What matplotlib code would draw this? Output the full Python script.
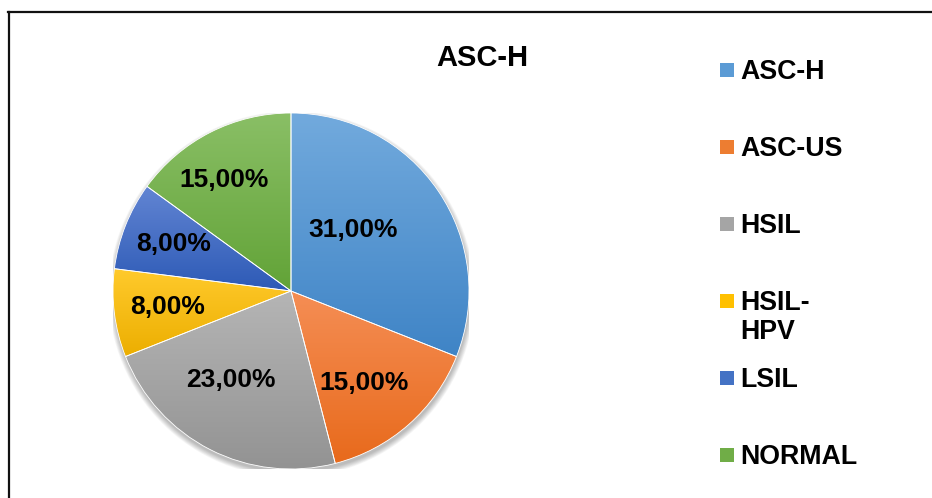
import matplotlib
matplotlib.use('Agg')
import matplotlib.pyplot as plt
import numpy as np
from matplotlib.colors import LinearSegmentedColormap
from matplotlib.patches import Circle, Rectangle
from matplotlib.lines import Line2D

plt.rcParams['font.family'] = ['Liberation Sans', 'DejaVu Sans']
plt.rcParams['font.weight'] = 'bold'

# data
categories = ['ASC-H', 'ASC-US', 'HSIL', 'HSIL-HPV', 'LSIL', 'NORMAL']
values = [31, 15, 23, 8, 8, 15]
title = 'ASC-H'

# gradient colours per slice (top, bottom)
grads = [('#72aadd', '#3f84c6'),
         ('#f58e55', '#e86a1c'),
         ('#b5b5b5', '#939393'),
         ('#ffca2c', '#ecae00'),
         ('#6285d3', '#2d5ab6'),
         ('#8abf66', '#62a337')]
legend_cols = ['#5b9bd5', '#ed7d31', '#a5a5a5', '#ffc000', '#4472c4', '#70ad47']
label_dist = [0.49, 0.66, 0.60, 0.70, 0.71, 0.73]
label_rot = [10, -3, -7, 0, 0, 4]   # small angular nudges, degrees

W, H = 932, 498
fig = plt.figure(figsize=(W / 100, H / 100), dpi=100)
fig.patch.set_facecolor('white')

cx, cy, r = 291, 291, 178
ax = fig.add_axes([(cx - r) / W, (H - cy - r) / H, 2 * r / W, 2 * r / H])

# soft shadow
for i in range(8):
    ax.add_patch(Circle((0.004, -0.018), 1.0 + 0.004 * i, color='black',
                        alpha=0.035, lw=0, zorder=0))

wedges, _ = ax.pie(values, startangle=90, counterclock=False,
                   wedgeprops=dict(edgecolor='white', linewidth=0.6))

grad = np.linspace(0, 1, 256).reshape(-1, 1)
for w, (ctop, cbot) in zip(wedges, grads):
    ext = w.get_path().transformed(w.get_patch_transform()).get_extents()
    cmap = LinearSegmentedColormap.from_list('g', [cbot, ctop])
    im = ax.imshow(grad, extent=(ext.x0, ext.x1, ext.y0, ext.y1), origin='lower',
                   cmap=cmap, aspect='auto', zorder=1, interpolation='bilinear')
    im.set_clip_path(w)
    w.set_facecolor('none')
    w.set_zorder(2)

for w, v, d, rot in zip(wedges, values, label_dist, label_rot):
    ang = np.deg2rad((w.theta1 + w.theta2) / 2 + rot)
    txt = f'{v:.2f}'.replace('.', ',') + '%'
    ax.text(d * np.cos(ang), d * np.sin(ang), txt, ha='center', va='center',
            fontsize=19, fontweight='bold', color='black', zorder=3)

ax.set_xlim(-1, 1)
ax.set_ylim(-1, 1)
ax.set_aspect('equal')
ax.axis('off')

# title
fig.text(482 / W, 1 - 66.5 / H, title, ha='center', va='baseline',
         fontsize=21, fontweight='bold')

# legend
y0, step = 70, 77.
for i, (lab, col) in enumerate(zip(categories, legend_cols)):
    yc = y0 + step * i
    fig.patches.append(Rectangle((720 / W, 1 - (yc + 7) / H), 14 / W, 14 / H,
                                 transform=fig.transFigure, facecolor=col,
                                 edgecolor='none'))
    lines = lab.replace('-HPV', '-\nHPV').split('\n')
    for k, line in enumerate(lines):
        fig.text(740 / W, 1 - (yc + 9 + 29 * k) / H, line, ha='left',
                 va='baseline', fontsize=19.3, fontweight='bold')

# chart frame (only top and left edges visible)
fig.add_artist(Line2D([8.5 / W, 8.5 / W], [0, 1 - 12.5 / H], color='#111111',
                      lw=1.6, transform=fig.transFigure))
fig.add_artist(Line2D([8 / W, 1], [1 - 12.5 / H, 1 - 12.5 / H], color='#111111',
                      lw=1.6, transform=fig.transFigure))

fig.savefig('out.png', dpi=100)
